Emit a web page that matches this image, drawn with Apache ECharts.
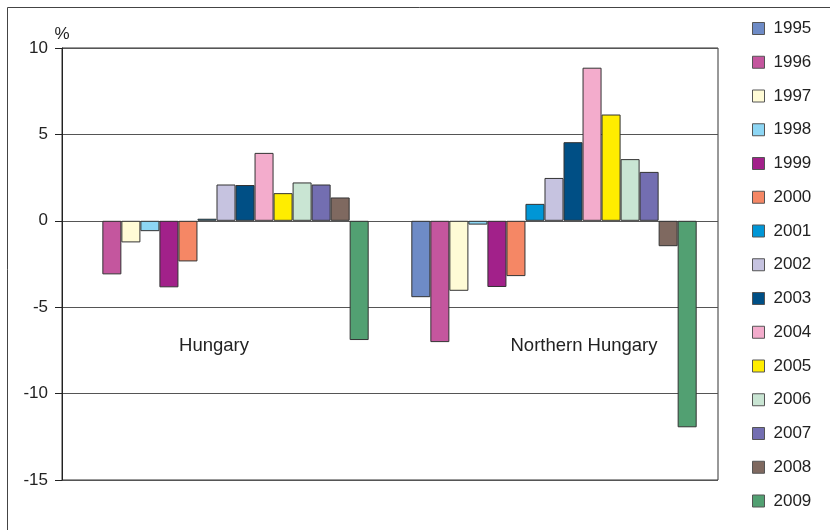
<!DOCTYPE html>
<html>
<head>
<meta charset="utf-8">
<script src="https://cdn.jsdelivr.net/npm/echarts@6/dist/echarts.min.js"></script>
<style>html,body{margin:0;padding:0;background:#fff}#c{width:830px;height:530px}</style>
</head>
<body>
<div id="c"></div>
<script>
var regions = ['Hungary', 'Northern Hungary'];
var years = ['1995','1996','1997','1998','1999','2000','2001','2002','2003','2004','2005','2006','2007','2008','2009'];
var hungary = [null, -3.1, -1.25, -0.6, -3.85, -2.35, 0.12, 2.1, 2.07, 3.93, 1.6, 2.22, 2.1, 1.35, -6.9];
var northernHungary = [-4.42, -7.02, -4.05, -0.22, -3.83, -3.2, 0.98, 2.48, 4.55, 8.86, 6.15, 3.57, 2.83, -1.47, -11.95];
var yTicks = { min: -15, max: 10, interval: 5 };
var colors = ['#6E8BC6','#C4569E','#FFFBD6','#8DD6F4','#A2218A','#F58765','#0096D6','#C6C3E0','#004F85','#F3ACCC','#FFED00','#C9E5D3','#736EB1','#7F6960','#52A072'];

var FONT = '"Liberation Sans", Arial, sans-serif';
var series = years.map(function (y, i) {
  return {
    name: y,
    type: 'bar',
    barGap: '0%',
    barCategoryGap: '13%',
    data: [hungary[i], northernHungary[i]],
    itemStyle: { color: colors[i], borderColor: '#333', borderWidth: 1 },
    emphasis: { disabled: true },
    animation: false
  };
});

var chart = echarts.init(document.getElementById('c'));
chart.setOption({
  animation: false,
  color: colors,
  textStyle: { fontFamily: FONT },
  graphic: [{
    type: 'rect', left: 5, top: 5, shape: { width: 900, height: 600 },
    style: { fill: 'none', stroke: '#444', lineWidth: 1 }, silent: true
  }],
  grid: { left: 62, right: 112, top: 48, bottom: 50, show: true, borderColor: '#333', borderWidth: 1 },
  legend: {
    orient: 'vertical', left: 747, top: 15,
    itemWidth: 12, itemHeight: 12, itemGap: 16.75,
    icon: 'rect',
    itemStyle: { borderColor: '#555', borderWidth: 1 },
    textStyle: { fontSize: 17, color: '#222', fontFamily: FONT, padding: [0, 0, 0, 4] },
    data: years
  },
  xAxis: {
    type: 'category',
    data: [
      { value: regions[0], textStyle: { padding: [0, 24, 0, 0] } },
      { value: regions[1], textStyle: { padding: [0, 0, 0, 60] } }
    ],
    axisLine: { show: false },
    axisTick: { show: false },
    axisLabel: { margin: -144, fontSize: 18.5, color: '#222', fontFamily: FONT }
  },
  yAxis: {
    type: 'value',
    min: yTicks.min, max: yTicks.max, interval: yTicks.interval,
    name: '%', nameLocation: 'end', nameGap: 5,
    nameTextStyle: { fontSize: 17, color: '#222', fontFamily: FONT },
    axisLine: { show: true, lineStyle: { color: '#222' } },
    axisTick: { show: true, length: 7, lineStyle: { color: '#222' } },
    axisLabel: { fontSize: 17, color: '#222', margin: 14, fontFamily: FONT },
    splitLine: { show: true, lineStyle: { color: '#555', width: 1 } }
  },
  series: series
});
</script>
</body>
</html>
